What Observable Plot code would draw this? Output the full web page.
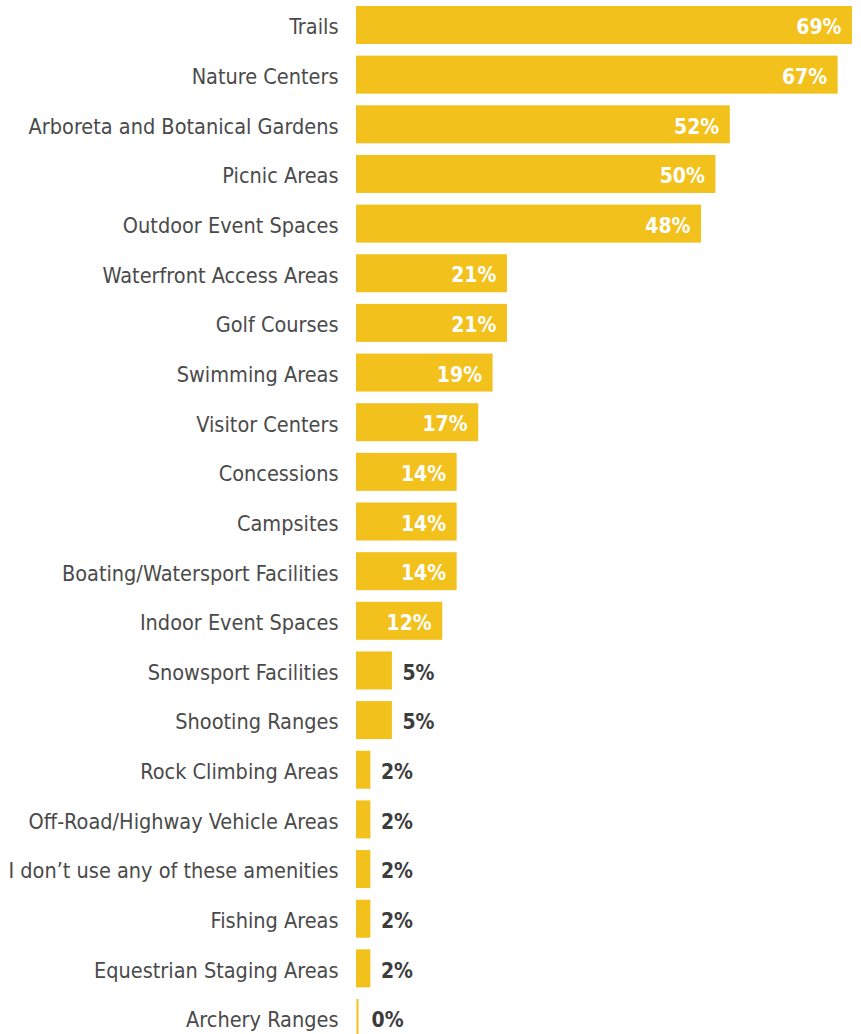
<!DOCTYPE html>
<html>
<head>
<meta charset="utf-8">
<script src="https://cdn.jsdelivr.net/npm/d3@7"></script>
<script src="https://cdn.jsdelivr.net/npm/@observablehq/plot@0.6"></script>
<style>
  html, body { margin: 0; padding: 0; background: #fff; overflow: hidden; }
  #chart svg { display: block; }
</style>
</head>
<body>
<div id="chart"></div>
<script>
const categories = [
  "Trails",
  "Nature Centers",
  "Arboreta and Botanical Gardens",
  "Picnic Areas",
  "Outdoor Event Spaces",
  "Waterfront Access Areas",
  "Golf Courses",
  "Swimming Areas",
  "Visitor Centers",
  "Concessions",
  "Campsites",
  "Boating/Watersport Facilities",
  "Indoor Event Spaces",
  "Snowsport Facilities",
  "Shooting Ranges",
  "Rock Climbing Areas",
  "Off-Road/Highway Vehicle Areas",
  "I don\u2019t use any of these amenities",
  "Fishing Areas",
  "Equestrian Staging Areas",
  "Archery Ranges"
];
const values = [69, 67, 52, 50, 48, 21, 21, 19, 17, 14, 14, 14, 12, 5, 5, 2, 2, 2, 2, 2, 0];

const data = categories.map((c, i) => ({label: c, value: values[i]}));
const inside = data.filter(d => d.value >= 10);
const outside = data.filter(d => d.value < 10 && d.value > 0);
const zero = data.filter(d => d.value === 0);

const font = "'Liberation Sans Narrow', 'DejaVu Sans Condensed', 'Roboto Condensed', Roboto, sans-serif";
const yellow = "#F2C11B";

const chart = Plot.plot({
  width: 861,
  height: 1037,
  marginLeft: 356,
  marginRight: 9,
  marginTop: 6,
  marginBottom: 0,
  style: {fontFamily: font, background: "#fff"},
  x: {domain: [0, 69], axis: null},
  y: {domain: categories, paddingInner: 0.235, paddingOuter: 0, round: false, axis: null},
  marks: [
    Plot.barX(data, {x: "value", y: "label", fill: yellow}),
    Plot.tickX(zero, {x: "value", y: "label", stroke: yellow, strokeWidth: 2, dx: 1}),
    Plot.axisY({tickSize: 0, tickPadding: 18, fontSize: 21.5, color: "#4a4a4a", fontFamily: font, label: null, dy: 2}),
    Plot.text(inside, {
      x: "value", y: "label", text: d => d.value + "%",
      textAnchor: "end", dx: -11, dy: 2, fill: "#fff", fontWeight: "bold", fontSize: 21, fontFamily: font
    }),
    Plot.text(outside, {
      x: "value", y: "label", text: d => d.value + "%",
      textAnchor: "start", dx: 10, dy: 2, fill: "#3c3c3c", fontWeight: "bold", fontSize: 21, fontFamily: font
    }),
    Plot.text(zero, {
      x: "value", y: "label", text: d => d.value + "%",
      textAnchor: "start", dx: 15, dy: 2, fill: "#3c3c3c", fontWeight: "bold", fontSize: 21, fontFamily: font
    })
  ]
});
document.getElementById("chart").appendChild(chart);
</script>
</body>
</html>
